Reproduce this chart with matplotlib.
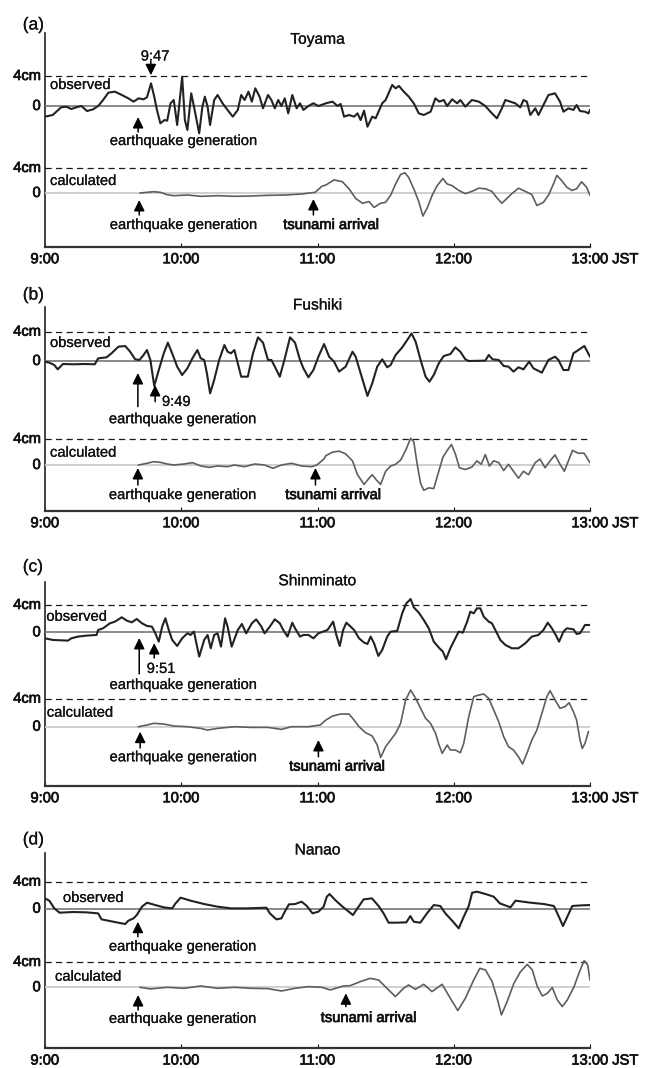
import matplotlib.pyplot as plt
import matplotlib.patheffects as pe
import numpy as np

plt.rcParams["font.family"] = ["Liberation Sans", "DejaVu Sans"]

W, H = 648, 1068          # output size in pixels
X_LEFT, X_RIGHT = 45, 590  # pixel x of 9:00 and 13:00

TICK_MIN = [0, 60, 120, 180, 240]
TICK_LABELS = ["9:00", "10:00", "11:00", "12:00", "13:00"]

# Sea level traces: (minutes after 9:00 JST, level in cm)
TOYAMA_OBS = [
    (0, -1.42), (3.4, -1.2), (7.1, -0.18), (9.3, -0.09), (11.6, -0.4), (13.8, -0.18),
    (16.0, 0), (18.5, -0.67), (21.2, -0.44), (23.4, 0), (25.6, 0.8), (27.9, 1.78),
    (30.8, 1.91), (33.8, 1.47), (36.7, 1.02), (39.0, 0.58), (41.2, 1.02), (43.4, 0.89),
    (44.9, 1.16), (46.7, 3.02), (48.1, 1.24), (49.3, -0.53), (50.8, -2.31), (52.6, -1.87),
    (53.8, -1.96), (55.3, 0.36), (56.7, 0.8), (58.2, -2.53), (60.4, 3.91), (61.6, -1.87),
    (62.7, -3.2), (64.4, 1.69), (65.6, -0.09), (67.9, -3.64), (69.3, -0.09), (70.4, 1.24),
    (71.6, -0.09), (72.7, -2.53), (74.5, 0.8), (76.0, 1.47), (78.2, 0.36), (80.4, -0.53),
    (82.7, -1.42), (84.9, -0.53), (86.4, 1.47), (87.9, 0.8), (89.6, 1.91), (91.1, 0.58),
    (92.6, 2.36), (94.5, 1.24), (96.0, -0.31), (98.2, 1.47), (99.7, 0.8), (101.2, -0.31),
    (102.7, 0.8), (104.1, 0), (105.6, 1.02), (107.1, -0.98), (108.9, 1.47), (110.8, -0.31),
    (112.3, 0.36), (113.8, -0.53), (116.0, 0), (118.2, 0.36), (120.4, 0), (123.7, 0.36),
    (126.6, 0.58), (128.8, 0), (130.2, 0.27), (131.7, -1.42), (133.9, -1.2), (136.1, -1.42),
    (137.6, -0.98), (139.0, -1.87), (140.5, -0.62), (142.0, -2.76), (144.1, -1.42),
    (145.6, -1.64), (148.5, 0.36), (150.0, 0.8), (152.9, 2.8), (154.4, 2.36), (155.9, 2.67),
    (158.0, 1.91), (160.2, 1.24), (162.4, 0.36), (164.6, -0.98), (166.8, -1.2), (169.8, -0.76),
    (171.9, 1.02), (173.7, 0.58), (175.6, 0.8), (177.1, 0), (179.3, 0.89), (181.5, 0.36),
    (182.9, 0.8), (185.1, -0.09), (188.0, 0.8), (191.0, 0.58), (193.9, 0), (196.8, -0.98),
    (199.0, -1.64), (201.2, -0.31), (202.7, 0.8), (204.9, 0.58), (207.1, 0.36), (209.3, -0.18),
    (210.7, 0.8), (212.2, 0.58), (213.7, -1.2), (215.9, -0.31), (217.3, -1.2), (219.5, 0.13),
    (221.7, 1.47), (224.6, 1.69), (226.8, 0.58), (228.3, -0.76), (230.5, -0.31), (232.7, -0.53),
    (234.1, 0.13), (235.6, -0.67), (237.8, -0.76), (239.3, -0.98), (240, -0.53),
]
TOYAMA_CALC = [
    (41.9, 0), (44.9, 0.11), (47.9, 0.21), (50.8, 0.11), (53.8, -0.27), (56.7, -0.43),
    (62.7, -0.32), (68.6, -0.53), (76.0, -0.43), (83.4, -0.53), (90.8, -0.48), (98.2, -0.37),
    (105.6, -0.32), (113.0, -0.16), (119.0, 0.11), (121.9, 1.07), (123.7, 1.28), (127.3, 2.1),
    (131.0, 1.79), (133.9, 0.67), (136.8, -0.87), (139.8, -1.64), (142.7, -1.38), (144.9, -2.31),
    (147.8, -1.64), (150.0, -1.49), (152.2, -0.36), (154.4, 1.44), (156.6, 2.97), (158.5, 3.23),
    (160.2, 2.46), (162.4, 0.67), (164.6, -1.38), (166.4, -3.69), (168.3, -2.41), (170.5, -0.36),
    (172.7, 1.18), (175.2, 2.31), (177.1, 1.44), (179.3, 1.18), (182.2, 0.41), (185.1, -0.1),
    (188.0, 0.26), (191.0, 0.77), (193.9, 0.67), (196.8, 0.26), (199.0, -0.77), (201.2, -1.64),
    (203.4, -0.87), (205.6, -0.1), (208.5, 0.77), (211.5, 0.26), (214.4, -0.26), (216.6, -2.0),
    (219.5, -1.49), (221.7, -0.36), (223.9, 1.44), (225.4, 2.82), (227.6, 1.95), (229.8, 0.92),
    (232.0, 0.41), (234.1, 0.67), (236.3, 1.79), (238.5, 0.92), (240, -0.36),
]
FUSHIKI_OBS = [
    (0, -0.09), (1.9, -0.23), (4.1, -0.55), (5.6, -1.14), (7.9, -0.41), (12.3, -0.45),
    (17.5, -0.41), (21.9, -0.45), (23.4, 0.36), (27.1, 0.5), (29.3, 1.05), (32.3, 1.95),
    (35.3, 2.05), (37.5, 1.27), (39.7, 0.23), (41.6, 0.14), (43.4, 0.82), (44.9, 1.5),
    (46.4, 0.14), (48.1, -3.41), (50.1, -1.23), (52.3, 1.05), (54.1, 2.5), (56.0, 1.05),
    (58.2, -0.77), (60.4, -1.91), (62.7, -1.0), (64.9, 0.36), (67.1, 1.5), (68.6, 0.36),
    (70.1, 0.14), (71.3, -1.68), (72.7, -4.41), (74.5, -2.59), (76.7, 0.14), (79.0, 2.18),
    (80.4, 1.27), (81.9, 1.05), (83.4, 1.5), (84.9, -0.32), (86.4, -2.14), (89.3, -2.14),
    (91.6, 1.05), (93.8, 3.23), (96.0, 2.5), (98.2, 0.14), (99.7, 0.14), (101.2, -0.77),
    (103.4, -2.14), (105.6, 0.36), (107.9, 3.23), (110.1, 2.5), (112.3, 0.14), (113.8, -1.0),
    (116.0, -2.23), (118.2, -1.23), (120.4, 0.59), (122.9, 2.32), (125.1, 0.59), (127.3, -0.09),
    (129.5, -1.45), (132.4, -0.77), (135.4, 1.27), (136.8, 0.59), (139.0, -1.68), (142.0, -4.77),
    (144.1, -3.05), (146.3, -0.77), (148.5, 0.23), (150.7, -0.86), (152.2, -0.55), (154.4, 0.82),
    (157.3, 1.86), (159.5, 2.86), (161.4, 3.77), (163.2, 2.64), (165.4, 0.14), (167.6, -2.14),
    (169.3, -2.82), (171.2, -1.91), (173.4, -0.32), (175.6, 0.68), (178.5, 0.95), (180.7, 1.86),
    (182.9, 1.27), (185.1, 0.23), (186.6, 0), (193.9, 0.05), (195.4, 0.82), (197.1, 0.23),
    (199.8, 0.14), (202.0, -0.68), (204.1, -0.77), (206.3, -1.45), (208.5, -0.86), (210.7, -1.14),
    (213.2, -0.09), (215.1, -1.0), (218.8, -1.59), (221.7, 0.14), (224.6, 0.59), (226.1, 0.14),
    (228.3, -1.23), (230.5, -1.23), (232.7, 1.05), (234.9, 1.5), (237.5, 2.05), (240, 0.59),
]
FUSHIKI_CALC = [
    (41.2, 0), (44.9, 0.26), (47.9, 0.51), (50.8, 0.41), (53.8, 0.15), (56.7, 0), (61.2, 0.15),
    (64.9, 0.36), (68.6, -0.15), (72.3, -0.36), (76.0, -0.15), (80.4, -0.26), (83.4, 0),
    (87.9, -0.26), (92.3, 0.15), (96.7, 0), (100.4, -0.51), (104.1, 0), (108.6, 0.26),
    (113.0, -0.15), (117.5, -0.26), (119.7, 0), (122.7, 0.87), (123.7, 1.44), (126.6, 1.97),
    (129.5, 2.13), (132.4, 1.71), (135.4, 0.64), (137.6, -1.49), (140.5, -2.99), (142.7, -2.03),
    (144.1, -1.49), (145.9, -2.29), (147.8, -2.99), (150.0, -0.96), (152.2, -0.16), (154.4, 0.11),
    (156.6, 0.75), (158.8, 2.24), (161.0, 4.11), (162.4, 3.57), (163.9, 0.11), (165.4, -2.83),
    (166.8, -3.89), (169.0, -3.52), (171.2, -3.63), (173.4, -0.96), (175.2, 1.17), (177.1, 2.24),
    (179.0, 3.15), (180.7, 1.71), (182.5, -0.43), (185.1, -0.69), (188.0, -0.32), (190.2, 0.64),
    (192.1, 0.11), (193.9, 1.6), (195.7, -0.16), (197.6, 0.64), (199.8, 0.37), (202.0, -0.85),
    (204.1, 0.11), (206.3, -0.96), (208.5, -2.03), (210.7, -0.96), (212.9, -1.49), (215.9, 0.37),
    (218.0, 0.91), (220.2, -0.43), (222.4, 0.64), (224.6, 1.55), (226.8, 0.11), (228.7, -0.96),
    (230.8, 0.91), (232.3, 2.24), (234.9, 1.81), (237.4, 1.81), (240, 0.37),
]
SHINMINATO_OBS = [
    (0, -0.88), (3.4, -1.12), (10.1, -1.22), (11.6, -0.88), (14.5, -0.63), (18.2, -0.49),
    (22.7, -0.39), (23.4, 0.34), (25.6, 0.59), (28.6, 1.32), (30.8, 1.56), (33.8, 2.2),
    (36.0, 1.71), (38.2, 1.46), (40.4, 1.95), (42.7, 1.32), (44.9, 0.93), (47.1, 0.83),
    (48.6, -0.15), (50.1, -1.37), (51.6, 0.83), (53.0, 2.05), (54.5, 0.34), (56.0, -1.12),
    (58.2, -2.0), (60.4, -0.88), (62.7, -0.15), (64.1, -0.39), (65.6, 0.1), (67.9, -3.56),
    (70.1, -1.12), (71.6, -0.39), (73.0, -2.34), (74.5, -0.39), (76.0, -0.15), (77.5, -2.1),
    (79.3, 2.05), (80.4, 0.83), (82.2, -2.1), (84.9, 0.34), (86.7, 1.22), (88.6, -0.15),
    (91.1, 1.32), (93.0, 1.9), (95.3, 0.83), (96.7, -0.15), (99.0, 0.83), (101.2, 1.9),
    (103.4, 1.32), (104.9, 0.34), (106.8, -0.63), (108.9, 1.41), (110.1, 0.59), (112.3, -0.63),
    (113.8, -0.39), (116.0, -0.39), (118.2, -0.88), (120.4, -0.15), (124.4, 0.34), (126.9, 1.56),
    (128.3, -0.39), (129.8, -2.0), (131.3, 0.34), (132.7, 1.41), (134.6, 0.83), (136.1, 0.34),
    (138.3, -0.88), (140.5, -1.51), (142.0, -1.71), (143.4, -0.63), (144.9, -1.61), (146.8, -3.46),
    (148.5, -2.59), (150.7, -0.63), (152.2, 0.1), (155.1, 0.2), (157.3, 2.78), (159.1, 4.24),
    (161.0, 4.88), (162.4, 3.66), (164.6, 2.88), (166.8, 1.8), (169.0, 0.59), (171.2, -1.37),
    (173.7, -2.34), (175.2, -2.83), (176.6, -3.95), (178.5, -2.34), (180.7, -0.88), (182.2, 0.1),
    (184.0, -0.05), (185.9, 1.56), (187.3, 3.02), (188.8, 2.78), (190.2, 3.51), (191.7, 3.51),
    (193.2, 2.29), (195.4, 1.56), (196.8, 1.32), (198.3, 0.34), (200.5, -1.12), (202.7, -1.85),
    (205.6, -2.34), (208.5, -2.34), (211.5, -1.61), (214.4, -0.63), (217.3, -0.39), (219.5, 0.34),
    (221.4, 1.41), (223.2, 0.59), (224.9, -0.39), (226.4, -1.37), (228.3, 0.1), (229.8, 0.59),
    (232.7, 0.44), (234.1, -0.24), (235.6, -0.15), (237.8, 1.07), (240, 1.07),
]
SHINMINATO_CALC = [
    (41.2, 0), (44.9, 0.24), (47.9, 0.48), (52.3, 0.38), (56.7, 0.1), (62.7, 0), (68.6, -0.24),
    (71.6, -0.48), (76.0, -0.24), (83.4, 0), (90.8, -0.1), (98.2, -0.1), (104.1, -0.38),
    (108.6, 0), (116.0, 0), (121.2, 0.24), (123.7, 0.95), (126.6, 1.52), (130.2, 1.81),
    (133.9, 1.81), (136.1, 0.95), (138.3, 0), (141.2, -0.86), (144.1, -1.33), (146.3, -2.62),
    (147.8, -4.38), (150.0, -2.86), (152.2, -1.9), (154.4, -0.95), (156.6, 0.48), (158.8, 3.81),
    (161.0, 5.24), (163.2, 4.05), (165.4, 2.62), (167.6, 1.19), (169.8, 0.48), (172.0, -0.95),
    (173.4, -2.48), (174.9, -3.81), (177.1, -2.62), (178.5, -3.33), (180.7, -3.33), (182.9, -3.71),
    (184.4, -2.38), (186.6, 1.43), (188.8, 4.29), (191.0, 4.52), (193.2, 4.67), (195.4, 4.05),
    (197.6, 2.38), (199.8, 0.71), (202.0, -1.43), (204.1, -2.86), (206.3, -3.33), (208.5, -4.29),
    (210.3, -5.33), (212.2, -3.81), (214.4, -1.9), (216.6, -0.48), (218.8, 1.9), (221.0, 4.29),
    (222.4, 5.14), (224.6, 3.81), (226.8, 2.62), (229.0, 2.86), (230.8, 3.43), (232.7, 2.14),
    (234.1, 0.95), (235.6, -1.9), (236.6, -3.1), (237.8, -2.38), (239.3, -0.71),
]
NANAO_OBS = [
    (0, 1.53), (1.9, 1.19), (4.1, 0.05), (6.4, -0.59), (12.3, -0.49), (18.2, -0.54),
    (23.4, -0.69), (24.9, -1.58), (30.1, -1.93), (35.3, -2.27), (36.7, -1.78), (39.0, -1.43),
    (40.4, -0.94), (42.7, 0.3), (44.9, 0.89), (48.6, 0.54), (52.3, 0.2), (56.0, 0.05),
    (57.5, 0.79), (59.7, 1.63), (64.1, 1.19), (70.1, 0.69), (76.0, 0.3), (81.9, 0.05),
    (89.3, 0.05), (97.5, 0.15), (99.0, -0.69), (101.9, -1.58), (104.1, -1.43), (105.6, -0.44),
    (107.4, 0.64), (110.1, 0.69), (113.0, 1.04), (115.3, 0.4), (117.8, -0.69), (120.4, -0.44),
    (122.7, 0.3), (124.1, 1.78), (125.3, 2.17), (127.8, 1.28), (130.7, 0.4), (132.9, -0.2),
    (135.6, -0.94), (138.1, 0.3), (140.3, 1.38), (144.0, 1.53), (146.9, 0.4), (149.1, -0.69),
    (151.3, -2.07), (155.0, -2.07), (159.1, -2.02), (160.9, -1.09), (162.4, -1.93), (165.3, -2.07),
    (168.2, -0.69), (171.2, 0.54), (174.1, 0.4), (176.3, -0.69), (179.3, -1.78), (182.2, -2.91),
    (184.4, -1.19), (186.6, 0.4), (188.1, 2.37), (190.3, 2.52), (194.0, 2.17), (197.6, 1.78),
    (200.3, 0.79), (205.0, 0.2), (207.2, 1.19), (213.8, 0.89), (219.7, 0.69), (224.1, 0.4),
    (226.3, -1.19), (228.1, -2.57), (230.0, -1.19), (232.2, 0.4), (235.9, 0.49), (240, 0.54),
]
NANAO_CALC = [
    (41.9, 0), (46.4, -0.26), (53.8, 0), (61.2, -0.16), (68.6, 0.21), (76.0, -0.16), (83.4, 0),
    (90.8, -0.16), (98.2, -0.21), (104.1, -0.58), (110.1, -0.16), (116.0, 0.11), (121.9, 0),
    (125.6, -0.42), (131.5, 0.21), (134.4, 0.26), (138.8, 0.89), (143.2, 1.42), (146.9, 1.16),
    (150.6, -0.16), (154.3, -1.47), (157.9, -0.16), (160.1, 0.37), (163.1, -0.32), (166.8, 0.47),
    (170.4, -0.68), (174.9, 0.47), (178.5, -1.74), (181.8, -3.68), (185.1, -1.74), (188.8, 1.16),
    (191.5, 3.0), (194.0, 2.74), (196.9, 0.89), (199.1, -1.74), (201.0, -4.37), (203.5, -2.26),
    (206.5, 0.63), (209.4, 2.47), (212.4, 3.63), (214.6, 2.74), (216.8, 0.11), (219.0, -1.37),
    (221.2, -0.95), (223.4, -0.05), (225.6, -2.0), (227.8, -3.05), (230.0, -2.0), (233.0, 0.11),
    (235.1, 2.21), (237.4, 4.21), (239.0, 3.53), (240, 1.16),
]

EQ = "earthquake generation"
TS = "tsunami arrival"

# Layout in source pixels (y from the top): frame, zero line and 4 cm line of each trace.
# Notes are (minute, cm) positions in the trace's own units.
PANELS = [
    dict(tag="(a)", station="Toyama", obs=TOYAMA_OBS, calc=TOYAMA_CALC,
         top=33, bottom=246.7, obs_px=(106, 76), calc_px=(193, 168),
         tag_y=10.8, title_y=8.9, obs_lab=(2.2, 2.8), calc_lab=(2.2, 1.92),
         obs_arrows=[(46.6, 5.95, 4.1), (41.0, -3.47, -1.47)],
         obs_texts=[(48.5, 6.6, "9:47", "center"), (61.3, -4.67, EQ, "center")],
         calc_arrows=[(41.5, -3.52, -1.12), (118.2, -3.52, -0.96)],
         calc_texts=[(61.3, -5.12, EQ, "center"), (126.2, -5.12, TS, "center")]),
    dict(tag="(b)", station="Fushiki", obs=FUSHIKI_OBS, calc=FUSHIKI_CALC,
         top=306.7, bottom=510.7, obs_px=(361, 331.7), calc_px=(465, 439),
         tag_y=9.0, title_y=7.64, obs_lab=(2.2, 2.46), calc_lab=(2.2, 1.89),
         obs_arrows=[(40.9, -6.23, -1.64), (48.5, -5.55, -3.27)],
         obs_texts=[(51.5, -5.59, "9:49", "left"), (60.9, -7.95, EQ, "center")],
         calc_arrows=[(40.9, -3.08, -0.46), (119.1, -3.08, -0.46)],
         calc_texts=[(60.9, -4.62, EQ, "center"), (127.1, -4.62, TS, "center")]),
    dict(tag="(c)", station="Shinminato", obs=SHINMINATO_OBS, calc=SHINMINATO_CALC,
         top=581.7, bottom=785.7, obs_px=(632.3, 605), calc_px=(726.7, 698.7),
         tag_y=9.56, title_y=7.55, obs_lab=(0.6, 2.28), calc_lab=(0.8, 2.0),
         obs_arrows=[(41.5, -6.1, -0.83), (48.1, -3.76, -1.57)],
         obs_texts=[(44.8, -5.37, "9:51", "left"), (61.2, -7.72, EQ, "center")],
         calc_arrows=[(41.9, -3.04, -0.71), (120.4, -4.29, -1.9)],
         calc_texts=[(61.2, -4.37, EQ, "center"), (128.8, -5.71, TS, "center")]),
    dict(tag="(d)", station="Nanao", obs=NANAO_OBS, calc=NANAO_CALC,
         top=853, bottom=1048, obs_px=(908.7, 881.7), calc_px=(987.3, 962),
         tag_y=10.2, title_y=8.7, obs_lab=(7.9, 1.59), calc_lab=(4.4, 1.67),
         obs_arrows=[(40.9, -4.15, -1.93)],
         obs_texts=[(60.9, -5.63, EQ, "center")],
         calc_arrows=[(41.0, -3.59, -1.22), (132.5, -3.06, -0.95)],
         calc_texts=[(60.9, -5.0, EQ, "center"), (142.7, -4.85, TS, "center")]),
]

FS = 10.6
INK = "#111111"
# the scan's lettering is a touch heavier than plain Liberation Sans
REG = [pe.withStroke(linewidth=0.15, foreground=INK)]
HEAVY = [pe.withStroke(linewidth=0.5, foreground=INK)]


def add_px_axes(fig, top, bottom):
    return fig.add_axes([X_LEFT / W, 1 - bottom / H, (X_RIGHT - X_LEFT) / W, (bottom - top) / H])


def trace_axes(fig, top, bottom, zero, four):
    ax = add_px_axes(fig, top, bottom)
    s = (zero - four) / 4.0  # px per cm
    ax.set_xlim(0, 240)
    ax.set_ylim(-(bottom - zero) / s, (zero - top) / s)
    ax.axis("off")
    ax.patch.set_alpha(0)
    return ax


def arrow(ax, t, tail, tip):
    ax.annotate("", xy=(t, tip), xytext=(t, tail), annotation_clip=False,
                arrowprops=dict(arrowstyle="-|>,head_length=0.65,head_width=0.32",
                                color="black", lw=1.1, shrinkA=0, shrinkB=0,
                                mutation_scale=10))


def main():
    fig = plt.figure(figsize=(W / 100, H / 100), dpi=100)

    for p in PANELS:
        frame = add_px_axes(fig, p["top"], p["bottom"])
        frame.set_xlim(0, 240)
        frame.set_ylim(0, 1)
        for side in ("top", "right"):
            frame.spines[side].set_visible(False)
        frame.spines["left"].set_color("#222222")
        frame.spines["left"].set_linewidth(1.2)
        frame.spines["bottom"].set_color("#333333")
        frame.spines["bottom"].set_linewidth(1.6)
        frame.set_yticks([])
        frame.set_xticks(TICK_MIN)
        frame.set_xticklabels(TICK_LABELS)
        frame.tick_params(axis="x", direction="in", length=3, width=0.8,
                          pad=4, labelsize=FS, colors=INK)
        for lab in frame.get_xticklabels():
            lab.set_path_effects(HEAVY)
        frame.annotate("JST", xy=(240, 0), xycoords=("data", "axes fraction"),
                       xytext=(16, -4), textcoords="offset points",
                       ha="left", va="top", fontsize=FS, color=INK,
                       path_effects=HEAVY)

        obs = trace_axes(fig, p["top"], p["bottom"], *p["obs_px"])
        calc = trace_axes(fig, p["top"], p["bottom"], *p["calc_px"])

        for ax, zcol in ((obs, "#808080"), (calc, "#cdcdcd")):
            ax.axhline(0, color=zcol, lw=1.3, zorder=1)
            ax.axhline(4, color="#1a1a1a", lw=0.9, dashes=(5, 3.4), zorder=1)
            ax.text(-1.8, 4, "4cm", ha="right", va="center", fontsize=FS,
                    color=INK, clip_on=False, path_effects=HEAVY)
            ax.text(-1.8, 0, "0", ha="right", va="center", fontsize=FS,
                    color=INK, clip_on=False, path_effects=HEAVY)

        t, v = np.array(p["obs"]).T
        obs.plot(t, v, color="#222222", lw=1.5, zorder=3)
        t, v = np.array(p["calc"]).T
        calc.plot(t, v, color="#5e5e5e", lw=1.2, zorder=3)

        obs.text(-9.8, p["tag_y"], p["tag"], ha="left", va="center",
                 fontsize=12.5, color=INK, clip_on=False, path_effects=REG)
        obs.text(120, p["title_y"], p["station"], ha="center", va="center",
                 fontsize=11.2, color=INK, path_effects=REG)
        obs.text(*p["obs_lab"], "observed", ha="left", va="center",
                 fontsize=FS, color=INK, path_effects=REG)
        calc.text(*p["calc_lab"], "calculated", ha="left", va="center",
                  fontsize=FS, color=INK, path_effects=REG)

        for ax, arrows, texts in ((obs, p["obs_arrows"], p["obs_texts"]),
                                  (calc, p["calc_arrows"], p["calc_texts"])):
            for a in arrows:
                arrow(ax, *a)
            for tx, ty, s, ha in texts:
                ax.text(tx, ty, s, ha=ha, va="center", fontsize=FS, color=INK,
                        clip_on=False, path_effects=HEAVY if s == TS else REG)

    fig.savefig("out.png", dpi=100)
    plt.close(fig)


if __name__ == "__main__":
    main()
